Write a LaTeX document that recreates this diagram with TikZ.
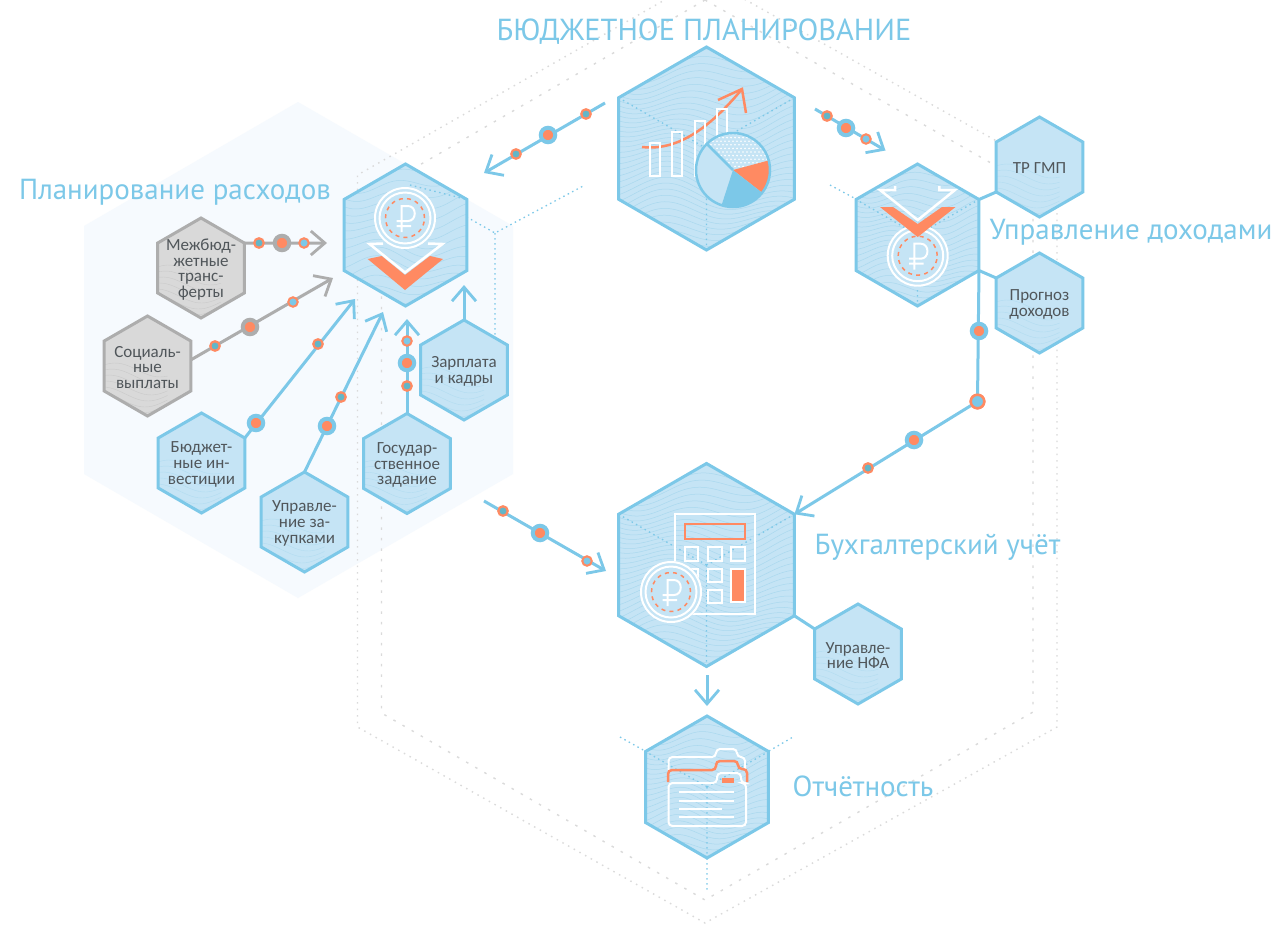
\documentclass[tikz,border=0pt]{standalone}
\usepackage{fontspec}
\setmainfont{Carlito}
\newfontfamily\headfont{PT Sans}
\usetikzlibrary{shapes.geometric,arrows.meta}
\definecolor{hexblue}{HTML}{7CC8E8}
\definecolor{hexfill}{HTML}{C5E4F5}
\definecolor{wavec}{HTML}{8FCDE8}
\definecolor{accent}{HTML}{FF8A62}
\definecolor{teal}{HTML}{62B6C8}
\definecolor{greyline}{HTML}{ADADAD}
\definecolor{greyfill}{HTML}{D9D9D9}
\definecolor{labeltext}{HTML}{50565A}
\definecolor{palebg}{HTML}{F6FAFE}
\definecolor{dotgrey}{HTML}{DADADA}
\tikzset{
  hexbase/.style={regular polygon,regular polygon sides=6,regular polygon rotate=30,inner sep=0pt,outer sep=0pt,minimum size=#1},
  hexstroke/.style={line width=3pt,line join=miter},
  wave/.style={line width=0.5pt,opacity=0.5},
  lab/.style={align=center,text=labeltext,font=\fontsize{17}{15.6}\selectfont,inner sep=0pt,yshift=-1.5pt},
  head/.style={text=hexblue,inner sep=0pt,font=\headfont\fontsize{29}{32}\selectfont},
  conn/.style={line width=3pt,draw=hexblue},
  gconn/.style={line width=3pt,draw=greyline},
  tip/.style={-{Straight Barb[length=14pt,width=24pt,line width=2.8pt]}},
  dotS/.style={circle,minimum size=9.5pt,inner sep=0pt,fill=hexblue,draw=accent,line width=2pt},
  dotT/.style={circle,minimum size=9.5pt,inner sep=0pt,fill=teal,draw=accent,line width=2.2pt},
  dotL/.style={circle,minimum size=14.5pt,inner sep=0pt,fill=accent,draw=hexblue,line width=4pt},
  dotG/.style={circle,minimum size=14.5pt,inner sep=0pt,fill=accent,draw=greyline,line width=4pt},
  dotR/.style={circle,minimum size=13.5pt,inner sep=0pt,fill=hexblue,draw=accent,line width=2.5pt},
  greydot/.style={draw=dotgrey,line width=1.4pt,dash pattern=on 1.5pt off 5pt},
  greydash/.style={draw=dotgrey,line width=1.4pt,dash pattern=on 2.5pt off 8pt},
  bluedot/.style={draw=hexblue,line width=1.3pt,dash pattern=on 1.5pt off 3.5pt},
  icon/.style={draw=white,line width=2.5pt},
  iconthin/.style={draw=white,line width=2pt},
}
% name, x, y, R, fill, stroke, wave spacing, wave colour
\newcommand\hexa[8]{%
  \node[hexbase=#4*2pt,fill=#5] (#1) at (#2,#3) {};
  \begin{scope}
    \clip (#1.90)--(#1.30)--(#1.-30)--(#1.-90)--(#1.-150)--(#1.150)--cycle;
    \foreach \n [evaluate=\n as \k using -1.25+\n*#7] in {0,1,...,46}{
      \draw[wave,draw=#8] plot[variable=\t,domain=#2-#4:#2+#4,samples=30,smooth]
        ({\t},{#3+\k*#4+0.08*#4*sin(310/#4*(\t-#2)+\k*70)+0.07*#4*sin(130/#4*(\t-#2)-\k*160+40)});
    }
  \end{scope}
  \draw[hexstroke,draw=#6] (#1.90)--(#1.30)--(#1.-30)--(#1.-90)--(#1.-150)--(#1.150)--cycle;
}
% faint contour lines in the lower part of a small hexagon
\newcommand\hexs[6]{%
  \node[hexbase=100pt,fill=#4] (#1) at (#2,#3) {};
  \begin{scope}
    \clip (#1.90)--(#1.30)--(#1.-30)--(#1.-90)--(#1.-150)--(#1.150)--cycle;
    \foreach \k in {0,6,...,48}{
      \draw[line width=0.4pt,opacity=0.35,draw=#6] plot[variable=\t,domain=#2-45:#2+20,samples=18,smooth]
        ({\t},{#3+\k+4+7*sin(4*(\t-#2)+40+\k*2)});
    }
  \end{scope}
  \draw[hexstroke,draw=#5] (#1.90)--(#1.30)--(#1.-30)--(#1.-90)--(#1.-150)--(#1.150)--cycle;
}
\newcommand\cube[1]{%
  \draw[bluedot] (#1.center)--(#1.150) (#1.center)--(#1.30) (#1.center)--(#1.-90);
}
\newcommand\rubcoin[2]{%
  \fill[hexfill] (#1,#2) circle[radius=31pt];
  \draw[iconthin] (#1,#2) circle[radius=30pt];
  \draw[iconthin] (#1,#2) circle[radius=25.5pt];
  \draw[draw=accent,line width=1.5pt,dash pattern=on 4pt off 4.2pt] (#1,#2) circle[radius=19.5pt];
  \begin{scope}[shift={(#1,#2)}]
    \draw[iconthin] (-3.3,14)--(-3.3,-12)--(3,-12) .. controls (12,-12) and (12,3) .. (3,3)--(-8.5,3) (-8.5,8)--(6,8);
  \end{scope}
}
\begin{document}
\begin{tikzpicture}[x=1pt,y=-1pt]
\useasboundingbox (0,0) rectangle (1274,924);
\fill[white] (0,0) rectangle (1274,924);
% pale background hexagon
\fill[palebg] (298,102)--(513,226)--(513,474)--(298,598)--(84,474)--(84,226)--cycle;
% grey dotted hexagons
\begin{scope}
\clip (0,0) rectangle (1274,924);
\draw[greydot] (705,-23)--(1057,175)--(1057,727)--(705,923)--(357.5,727)--(357.5,175)--cycle;
\draw[greydash] (705,0)--(1033,187)--(1033,712)--(705,900)--(381.5,713)--(381.5,187)--cycle;
\end{scope}
% blue dotted construction lines
\draw[bluedot] (410,185)--(495,233)--(585,185) (495,233)--(495,335);
\draw[bluedot] (830,185)--(856,199);
\draw[bluedot] (620,737)--(645,751) (769,751)--(793,737) (707,858)--(707,890);

% main hexagons
\hexa{plan}{706.5}{148.5}{101.5}{hexfill}{hexblue}{0.058}{wavec}
\hexa{calc}{706.5}{565}{101.5}{hexfill}{hexblue}{0.058}{wavec}
\hexa{rep}{707}{787}{71}{hexfill}{hexblue}{0.085}{wavec}
\hexa{exp}{405.5}{235}{71}{hexfill}{hexblue}{0.13}{wavec}
\hexa{inc}{917.5}{235}{71}{hexfill}{hexblue}{0.085}{wavec}
\cube{plan}\cube{calc}\cube{rep}\cube{inc}
\draw[bluedot] (410,185)--(exp.30);

% small hexagons
\hexs{mej}{201}{268}{greyfill}{greyline}{greyline}
\hexs{soc}{147.5}{366}{greyfill}{greyline}{greyline}
\hexs{bud}{201.5}{463}{hexfill}{hexblue}{wavec}
\hexs{zak}{304.5}{522}{hexfill}{hexblue}{wavec}
\hexs{gos}{407}{463.5}{hexfill}{hexblue}{wavec}
\hexs{zar}{464}{370}{hexfill}{hexblue}{wavec}
\hexs{trg}{1039.5}{167}{hexfill}{hexblue}{wavec}
\hexs{pro}{1039.5}{303}{hexfill}{hexblue}{wavec}
\hexs{nfa}{858}{654}{hexfill}{hexblue}{wavec}

% labels in the small hexagons
\node[lab] (mej-t) at (mej.center) {Межбюд-\\жетные\\транс-\\ферты};
\node[lab] (soc-t) at (soc.center) {Социаль-\\ные\\выплаты};
\node[lab] (bud-t) at (bud.center) {Бюджет-\\ные ин-\\вестиции};
\node[lab] (zak-t) at (zak.center) {Управле-\\ние за-\\купками};
\node[lab] (gos-t) at (gos.center) {Государ-\\ственное\\задание};
\node[lab] (zar-t) at (zar.center) {Зарплата\\и кадры};
\node[lab] (trg-t) at (trg.center) {ТР ГМП};
\node[lab] (pro-t) at (pro.center) {Прогноз\\доходов};
\node[lab] (nfa-t) at (nfa.center) {Управле-\\ние НФА};

% headings
\node[head,font=\headfont\fontsize{30.4}{32}\selectfont] (h1) at (704,31.5) {БЮДЖЕТНОЕ ПЛАНИРОВАНИЕ};
\node[head] (h2) at (175,192) {Планирование расходов};
\node[head] (h3) at (1131,232.5) {Управление доходами};
\node[head] (h4) at (937.5,547) {Бухгалтерский учёт};
\node[head] (h5) at (863,786) {Отчётность};

% free ends of the connectors
\coordinate (a1s) at (605,103);   \coordinate (a1e) at (484,173);
\coordinate (a2s) at (815,109);   \coordinate (a2e) at (885.5,150.5);
\coordinate (a3e) at (327,243);
\coordinate (a4e) at (333,278);
\coordinate (a5e) at (355,299);
\coordinate (a6e) at (383,312);
\coordinate (a7e) at (407,319);
\coordinate (a8e) at (464,285);
\coordinate (a9s) at (484,501);   \coordinate (a9e) at (606,571);
\coordinate (a10s) at (707,675);  \coordinate (a10e) at (707,706);

% connectors
\draw[conn,tip] (a1s)--(a1e);
\draw[conn,tip] (a2s)--(a2e);
\draw[gconn,tip] (mej.30)--(a3e);
\draw[gconn,tip] (soc.8)--(a4e);
\draw[conn,tip] (bud.30)--(a5e);
\draw[conn,tip] (zak.90)--(a6e);
\draw[conn,tip] (gos.90)--(a7e);
\draw[conn,tip] (zar.90)--(a8e);
\draw[conn,tip] (a9s)--(a9e);
\draw[conn,tip] (a10s)--(a10e);
\draw[conn] (inc.30)--(trg.-150);
\draw[conn] (inc.-30)--(pro.150);
\draw[conn] (calc.-30)--(nfa.150);
\node[dotR] (j1) at (977.5,401.5) {};
\draw[conn] (inc.-30)--(j1.center);
\draw[conn,tip] (j1.center)--(calc.30);

% markers on the connectors
\node[dotR] at (977.5,401.5) {};
\node[dotT] (d1) at (586,114) {};
\node[dotL] (d2) at (548,135) {};
\node[dotT] (d3) at (516,154) {};
\node[dotT] (d4) at (827,116) {};
\node[dotL] (d5) at (846,128) {};
\node[dotS] (d6) at (866,139) {};
\node[dotT] (d7) at (259,243) {};
\node[dotG] (d8) at (282,243) {};
\node[dotS] (d9) at (304,243) {};
\node[dotT] (d10) at (215,346) {};
\node[dotG] (d11) at (250,327) {};
\node[dotS] (d12) at (293,302) {};
\node[dotL] (d13) at (256,423) {};
\node[dotT] (d14) at (318,344) {};
\node[dotL] (d15) at (327,426) {};
\node[dotT] (d16) at (341,397) {};
\node[dotT] (d17) at (407,386) {};
\node[dotL] (d18) at (407,363) {};
\node[dotS] (d19) at (407,341) {};
\node[dotT] (d20) at (503,511) {};
\node[dotL] (d21) at (540,533) {};
\node[dotS] (d22) at (587,561) {};
\node[dotL] (d23) at (979,331) {};
\node[dotL] (d24) at (914,440) {};
\node[dotT] (d25) at (868,468) {};

% ---------- chart icon
\draw[draw=accent,line width=2.5pt] (642,147) .. controls (668,150) and (700,140) .. (742,89);
\draw[draw=accent,line width=2.5pt] (718,100)--(742,89)--(746,113);
\draw[icon] (650,143) rectangle (660,176);
\draw[icon] (672,132) rectangle (682,176);
\draw[icon] (695,121) rectangle (705,176);
\draw[icon] (717,109) rectangle (727,150);
\begin{scope}[shift={(733,170)},y=1pt]
  \fill[hexfill] (0,0) circle[radius=37pt];
  \begin{scope}
    \clip (0,0)--(15:45pt)--(60:60pt)--(100:60pt)--(135:45pt)--cycle;
    \clip (0,0) circle[radius=36pt];
    \foreach \i in {-16,...,16}{\foreach \j in {0,...,11}{
      \fill[white] ({\i*4+mod(\j,2)*2},{\j*3.6}) circle[radius=0.9pt];}}
  \end{scope}
  \fill[accent] (0,0)--(15:37pt) arc[start angle=15,end angle=-38,radius=37pt]--cycle;
  \fill[hexblue] (0,0)--(-38:37pt) arc[start angle=-38,end angle=-108,radius=37pt]--cycle;
  \draw[hexblue,line width=2.5pt] (0,0) circle[radius=37pt];
  \draw[hexblue,line width=2.5pt] (0,0)--(135:37pt);
\end{scope}

% ---------- expense icon
\rubcoin{405}{218}
\fill[accent] (367.7,259)--(381.7,256)--(405,275)--(430,256)--(443,259)--(405,290)--cycle;
\draw[icon,line join=miter] (383,243.5)--(369.5,244)--(405,272.5)--(442.5,244)--(428,243.5);

% ---------- income icon
\rubcoin{917.7}{255.7}
\fill[accent] (880,207)--(893,207)--(917.7,224)--(942,207)--(955.5,207)--(917.7,237)--cycle;
\draw[icon,line join=miter] (895,186)--(895,190)--(880,190)--(917.7,220)--(955,190)--(939.3,190)--(939.3,186);

% ---------- calculator icon
\draw[icon] (675,514) rectangle (755,614);
\draw[draw=accent,line width=2.5pt] (685,524) rectangle (745,539);
\foreach \a/\b in {685/698,708/722,731/745}{\draw[icon] (\a,547) rectangle (\b,561);}
\draw[icon] (685,569) rectangle (698,582);
\draw[icon] (708,569) rectangle (722,582);
\draw[icon] (708,590) rectangle (722,603);
\draw[icon,fill=accent] (731,569) rectangle (745,602);
\rubcoin{671}{592}

% ---------- folder icon
\draw[iconthin,rounded corners=4pt] (668.5,770)--(668.5,757)--(716,757)--(716,749)--(737,749)--(737,757)--(745,757)--(745,770);
\draw[draw=accent,line width=2.5pt,rounded corners=4pt] (668,782)--(668,770)--(716,770)--(716,761)--(738,761)--(738,769)--(747,769)--(747,782);
\draw[iconthin,rounded corners=4pt] (668.5,783)--(717,783)--(717,773)--(741,773)--(741,783)--(746,783)--(746,826)--(668.5,826)--cycle;
\fill[accent] (722,778) rectangle (734,783);
\draw[white,line width=1.5pt] (679,792)--(734,792) (679,801)--(734,801) (679,809)--(722,809) (679,817)--(734,817);
\end{tikzpicture}
\end{document}
